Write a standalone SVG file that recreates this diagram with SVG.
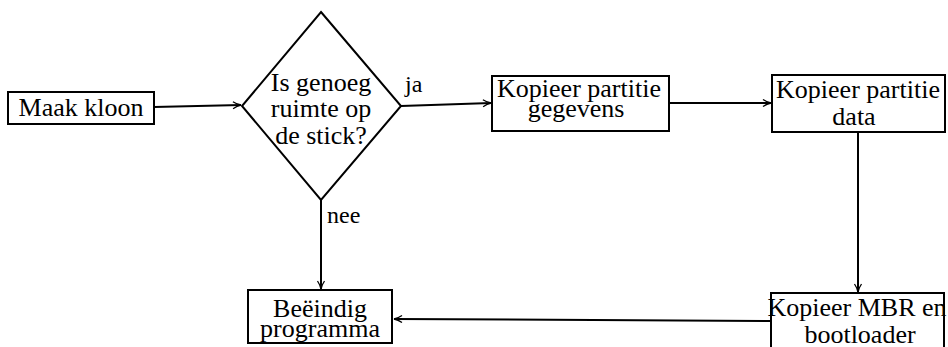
<svg xmlns="http://www.w3.org/2000/svg" width="948" height="347" viewBox="0 0 948 347">
<style>
.n{fill:#fff;stroke:#000;stroke-width:2}
.t{font-family:"Liberation Serif","Times New Roman",serif;font-size:26px;fill:#000;text-anchor:middle}
.l{font-family:"Liberation Serif","Times New Roman",serif;font-size:24px;fill:#000}
.c{fill:none;stroke:#000;stroke-width:2}
</style>
<defs>
<marker id="a" viewBox="0 0 10 10" refX="9" refY="5" markerWidth="10" markerHeight="10" markerUnits="userSpaceOnUse" orient="auto">
<path d="M1,1.5 Q5,4.2 9,5 Q5,5.8 1,8.5" fill="none" stroke="#000" stroke-width="1.3"/>
</marker>
</defs>
<rect width="948" height="347" fill="#fff"/>
<g id="connectors">
<path class="c" d="M154,107 L241,105" marker-end="url(#a)"/>
<path class="c" d="M401,106 L491,103" marker-end="url(#a)"/>
<path class="c" d="M669,103 L771,103" marker-end="url(#a)"/>
<path class="c" d="M858,132 L858,292" marker-end="url(#a)"/>
<path class="c" d="M321,200 L321,289" marker-end="url(#a)"/>
<path class="c" d="M771,321 L394,319" marker-end="url(#a)"/>
</g>
<g id="maak-kloon">
<rect class="n" x="8" y="92" width="146" height="32"/>
<text class="t" x="81" y="116">Maak kloon</text>
</g>
<g id="beslissing">
<polygon class="n" points="321,12 401,106 321,200 242,106"/>
<text class="t" x="321" y="91">Is genoeg</text>
<text class="t" x="321" y="117">ruimte op</text>
<text class="t" x="321" y="144">de stick?</text>
</g>
<g id="labels">
<text class="l" x="405" y="92">ja</text>
<text class="l" x="327" y="223">nee</text>
</g>
<g id="kopieer-gegevens">
<rect class="n" x="492" y="76" width="177" height="55"/>
<text class="t" x="579" y="97">Kopieer partitie</text>
<text class="t" x="576" y="117">gegevens</text>
</g>
<g id="kopieer-data">
<rect class="n" x="772" y="75" width="173" height="57"/>
<text class="t" x="858" y="98">Kopieer partitie</text>
<text class="t" x="854" y="125">data</text>
</g>
<g id="kopieer-mbr">
<rect class="n" x="771" y="293" width="173" height="56"/>
<text class="t" x="857" y="316">Kopieer MBR en</text>
<text class="t" x="860" y="343">bootloader</text>
</g>
<g id="beeindig">
<rect class="n" x="248" y="290" width="144" height="53"/>
<text class="t" x="320" y="317">Beëindig</text>
<text class="t" x="320" y="337">programma</text>
</g>
</svg>
